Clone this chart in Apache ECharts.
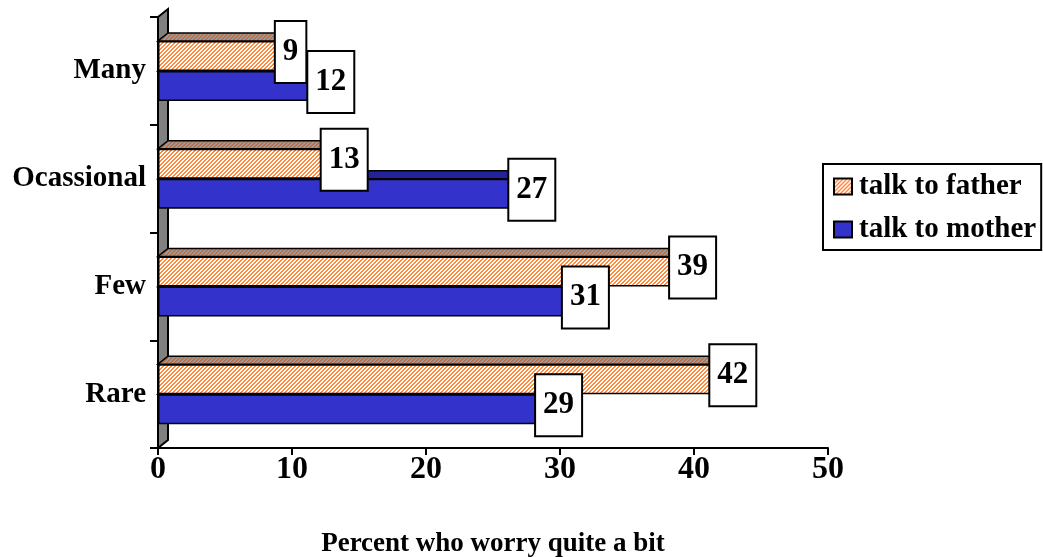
<!DOCTYPE html>
<html>
<head>
<meta charset="utf-8">
<title>Percent who worry quite a bit</title>
<script src="https://cdn.jsdelivr.net/npm/echarts@6/dist/echarts.min.js"></script>
<style>
  html, body { margin: 0; padding: 0; background: #fff; }
  #chart { width: 1043px; height: 557px; }
</style>
</head>
<body>
<div id="chart"></div>
<script>
// Categories listed bottom to top along the vertical axis
const categories = ['Rare', 'Few', 'Ocassional', 'Many'];
const fatherValues = [42, 39, 13, 9];
const motherValues = [29, 31, 27, 12];
const seriesNames = ['talk to father', 'talk to mother'];
const axisMin = 0;
const axisMax = 50;
const axisInterval = 10;
const axisTitle = 'Percent who worry quite a bit';

const FONT = '"Liberation Serif", "Times New Roman", serif';
const BAR_W = 30;       // thickness of each bar front
const DX = 10, DY = -8; // depth offset of the 3-D faces

// Small repeating hatch tiles
function hatch(bg, fg) {
  const c = document.createElement('canvas');
  c.width = 4; c.height = 4;
  const g = c.getContext('2d');
  g.fillStyle = bg; g.fillRect(0, 0, 4, 4);
  g.fillStyle = fg;
  for (let i = 0; i < 4; i++) {
    g.fillRect(i, (4 - i) % 4, 1, 1);
    g.fillRect(i, (5 - i) % 4, 1, 1);
  }
  return { image: c, repeat: 'repeat' };
}
const fatherFront = hatch('#ffffff', '#ff8a3c');
const fatherTop = hatch('#a09a98', '#b8704a');
const motherFront = '#3333cc';
const motherTop = '#22229a';

// Top and end faces that give each bar its depth
function depthFaces(upper, topFill, sideFill) {
  return function (params, api) {
    const cat = api.value(1);
    const v = api.value(0);
    const start = api.coord([axisMin, cat]);
    const end = api.coord([v, cat]);
    const y0 = upper ? start[1] - BAR_W : start[1];
    const y1 = y0 + BAR_W;
    const x0 = start[0], x1 = end[0];
    return {
      type: 'group',
      children: [
        { type: 'polygon',
          shape: { points: [[x0, y0], [x0 + DX, y0 + DY], [x1 + DX, y0 + DY], [x1, y0]] },
          style: { fill: topFill, stroke: '#000', lineWidth: 1.5 } },
        { type: 'polygon',
          shape: { points: [[x1, y0], [x1 + DX, y0 + DY], [x1 + DX, y1 + DY], [x1, y1]] },
          style: { fill: sideFill, stroke: '#000', lineWidth: 1.5 } }
      ]
    };
  };
}

// Grey side wall along the category axis
function wall(params, api) {
  const cs = params.coordSys;
  const x = cs.x, top = cs.y, bottom = cs.y + cs.height;
  return {
    type: 'polygon',
    shape: { points: [[x, top], [x + DX, top + DY], [x + DX, bottom + DY], [x, bottom]] },
    style: { fill: '#808080', stroke: '#000', lineWidth: 2 }
  };
}

const valueLabel = {
  show: true,
  position: 'right',
  distance: 12,
  align: 'center',
  verticalAlign: 'middle',
  offset: [0, -4],
  color: '#000',
  fontFamily: FONT,
  fontWeight: 'bold',
  fontSize: 31,
  lineHeight: 32,
  backgroundColor: '#fff',
  borderColor: '#000',
  borderWidth: 2,
  padding: [14, 7, 14, 7]
};

const chart = echarts.init(document.getElementById('chart'), null, { renderer: 'canvas' });
chart.setOption({
  animation: false,
  backgroundColor: '#fff',
  grid: { left: 158, right: 215, top: 17, bottom: 109, containLabel: false, outerBoundsMode: 'none' },
  legend: {
    orient: 'vertical',
    left: 823,
    top: 164,
    data: seriesNames,
    backgroundColor: '#fff',
    borderColor: '#000',
    borderWidth: 2,
    borderRadius: 0,
    padding: [8, 5, 6, 10],
    itemGap: 14,
    itemWidth: 18,
    itemHeight: 16,
    icon: 'rect',
    textStyle: { fontFamily: FONT, fontWeight: 'bold', fontSize: 29, lineHeight: 29, color: '#000', padding: [0, 0, 0, 2] }
  },
  xAxis: {
    type: 'value',
    min: axisMin,
    max: axisMax,
    interval: axisInterval,
    splitLine: { show: false },
    axisLine: { show: true, lineStyle: { color: '#000', width: 2 } },
    axisTick: { show: true, length: 7, lineStyle: { color: '#000', width: 2 } },
    axisLabel: { color: '#000', fontFamily: FONT, fontWeight: 'bold', fontSize: 32, margin: 6 },
    name: axisTitle,
    nameLocation: 'middle',
    nameGap: 83,
    nameTextStyle: { color: '#000', fontFamily: FONT, fontWeight: 'bold', fontSize: 27 }
  },
  yAxis: {
    type: 'category',
    data: categories,
    axisLine: { show: true, lineStyle: { color: '#000', width: 2 } },
    axisTick: { show: true, length: 8, lineStyle: { color: '#000', width: 2 } },
    axisLabel: { color: '#000', fontFamily: FONT, fontWeight: 'bold', fontSize: 29, margin: 12 }
  },
  series: [
    {
      name: seriesNames[0],
      type: 'bar',
      data: fatherValues,
      barWidth: BAR_W,
      barGap: '0%',
      z: 4,
      itemStyle: { color: fatherFront, borderColor: '#000', borderWidth: 1.5 },
      label: valueLabel
    },
    {
      name: seriesNames[1],
      type: 'bar',
      data: motherValues,
      barWidth: BAR_W,
      barGap: '0%',
      z: 4,
      itemStyle: { color: motherFront, borderColor: '#000', borderWidth: 1.5 },
      label: valueLabel
    },
    {
      type: 'custom',
      renderItem: wall,
      data: [[0, 0]],
      z: 1,
      silent: true
    },
    {
      type: 'custom',
      renderItem: depthFaces(false, motherTop, motherTop),
      data: motherValues.map((v, i) => [v, i]),
      encode: { x: 0, y: 1 },
      z: 2,
      silent: true
    },
    {
      type: 'custom',
      renderItem: depthFaces(true, fatherTop, fatherTop),
      data: fatherValues.map((v, i) => [v, i]),
      encode: { x: 0, y: 1 },
      z: 3,
      silent: true
    }
  ]
});
</script>
</body>
</html>
